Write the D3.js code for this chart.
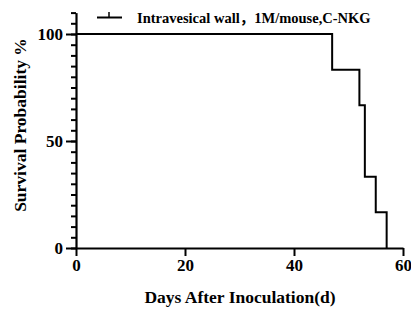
<!DOCTYPE html>
<html>
<head>
<meta charset="utf-8">
<script src="https://cdn.jsdelivr.net/npm/d3@7"></script>
<style>
  body { margin: 0; background: #fff; }
  text { font-family: "Liberation Serif", "Times New Roman", "Noto Sans CJK SC", serif; font-weight: bold; fill: #000; }
</style>
</head>
<body>
<svg id="chart" width="411" height="309"></svg>
<script>
// survival steps (days, percent)
const days = [0, 47, 52, 53, 55, 57];
const survival = [100, 83.33, 66.67, 33.33, 16.67, 0];
const xTicks = [0, 20, 40, 60];
const yTicks = [0, 50, 100];
const seriesName = "Intravesical wall\uFF0C1M/mouse,C-NKG";

const svg = d3.select("#chart");

const x = d3.scaleLinear().domain([0, 60]).range([76, 403]);
const y = d3.scaleLinear().domain([0, 110]).range([248, 248 - 2.14 * 110]);

// x axis
const xAxis = svg.append("g")
  .attr("transform", `translate(0, ${y(0)})`)
  .call(d3.axisBottom(x).tickValues(xTicks).tickSize(8).tickSizeOuter(0).tickPadding(3));
xAxis.select(".domain").attr("stroke-width", 2.2);
xAxis.selectAll(".tick line").attr("stroke-width", 2);
xAxis.selectAll(".tick text").attr("font-size", 17);

// y axis minor ticks
const yMinor = svg.append("g")
  .attr("transform", `translate(${x(0)}, 0)`)
  .call(d3.axisLeft(y).tickValues(d3.range(0, 111, 5)).tickSize(5).tickFormat("").tickSizeOuter(0));
yMinor.select(".domain").remove();
yMinor.selectAll(".tick line").attr("stroke-width", 2);

// y axis major
const yAxis = svg.append("g")
  .attr("transform", `translate(${x(0)}, 0)`)
  .call(d3.axisLeft(y).tickValues(yTicks).tickSize(10).tickSizeOuter(0).tickPadding(3));
yAxis.select(".domain").attr("stroke-width", 2.2);
yAxis.selectAll(".tick line").attr("stroke-width", 2);
yAxis.selectAll(".tick text").attr("font-size", 17);

// step line
const pts = days.map((d, i) => [d, survival[i]]);
const line = d3.line()
  .x(d => x(d[0]))
  .y(d => y(d[1]))
  .curve(d3.curveStepAfter);
svg.append("path")
  .datum(pts)
  .attr("fill", "none")
  .attr("stroke", "#000")
  .attr("stroke-width", 2)
  .attr("d", line);

// axis titles
svg.append("text")
  .attr("x", 240).attr("y", 303)
  .attr("text-anchor", "middle")
  .attr("font-size", 17.5)
  .text("Days After Inoculation(d)");
svg.append("text")
  .attr("transform", "translate(26, 125) rotate(-90)")
  .attr("text-anchor", "middle")
  .attr("font-size", 17.5)
  .text("Survival Probability %");

// legend
const lg = svg.append("g");
lg.append("line").attr("x1", 97).attr("x2", 122).attr("y1", 17.5).attr("y2", 17.5)
  .attr("stroke", "#000").attr("stroke-width", 2);
lg.append("line").attr("x1", 109).attr("x2", 109).attr("y1", 12).attr("y2", 17.5)
  .attr("stroke", "#000").attr("stroke-width", 1.5);
lg.append("text").attr("x", 137).attr("y", 23)
  .attr("font-size", 14.5)
  .text(seriesName);
</script>
</body>
</html>
